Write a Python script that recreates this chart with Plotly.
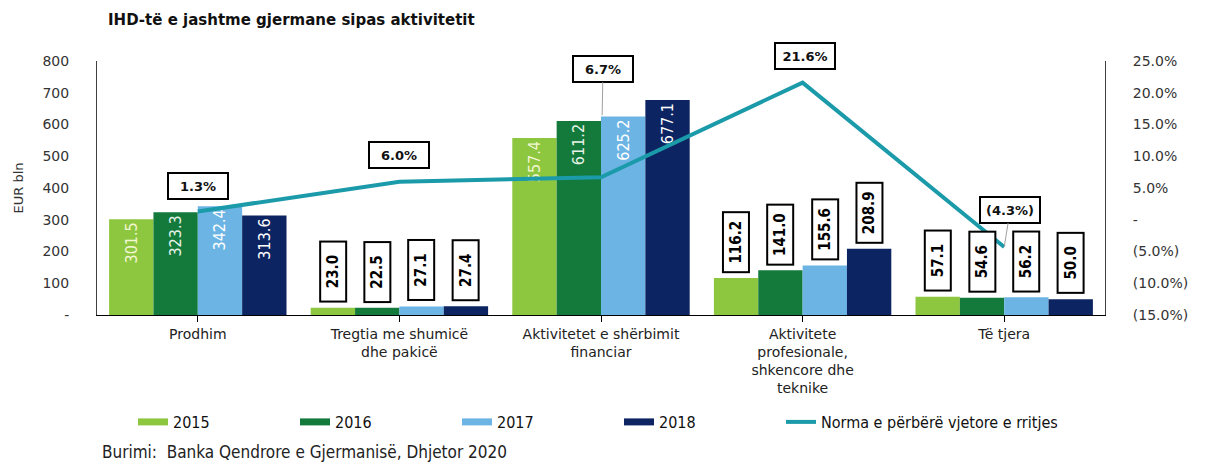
import plotly.graph_objects as go

categories = ["Prodhim", "Tregtia me shumicë<br>dhe pakicë", "Aktivitetet e shërbimit<br>financiar",
              "Aktivitete<br>profesionale,<br>shkencore dhe<br>teknike", "Të tjera"]
years = ["2015", "2016", "2017", "2018"]
v2015 = [301.5, 23.0, 557.4, 116.2, 57.1]
v2016 = [323.3, 22.5, 611.2, 141.0, 54.6]
v2017 = [342.4, 27.1, 625.2, 155.6, 56.2]
v2018 = [313.6, 27.4, 677.1, 208.9, 50.0]
growth = [1.3, 6.0, 6.7, 21.6, -4.3]
growth_labels = ["1.3%", "6.0%", "6.7%", "21.6%", "(4.3%)"]
left_ticks = [0, 100, 200, 300, 400, 500, 600, 700, 800]
left_ticktext = ["-", "100", "200", "300", "400", "500", "600", "700", "800"]
right_ticks = [-15, -10, -5, 0, 5, 10, 15, 20, 25]
right_ticktext = ["(15.0%)", "(10.0%)", "(5.0%)", "-", "5.0%", "10.0%", "15.0%", "20.0%", "25.0%"]

series = [v2015, v2016, v2017, v2018]
colors = ["#8dc63f", "#137a3c", "#6cb4e4", "#0c2461"]
line_color = "#1b9aaa"
inside_cats = [0, 2]
inside_font_colors = ["#f2f7d2", "#e6f3e6", "#ffffff", "#ffffff"]

NARROW = "DejaVu Sans Condensed, Liberation Sans Narrow, sans-serif"
BASE = "DejaVu Sans, Verdana, sans-serif"

fig = go.Figure()
idx = list(range(len(categories)))
for i, (vals, col) in enumerate(zip(series, colors)):
    texts = [f"{v:.1f}" if c in inside_cats else "" for c, v in enumerate(vals)]
    fig.add_trace(go.Bar(
        x=idx, y=vals, name=years[i], marker=dict(color=col, line=dict(width=0)),
        text=texts, textposition="inside", insidetextanchor="end", textangle=-90,
        textfont=dict(family=NARROW, size=16, color=inside_font_colors[i]),
        showlegend=False, hoverinfo="skip"))
    # legend proxy with wide thick symbol
    fig.add_trace(go.Scatter(x=[None], y=[None], mode="lines", name=years[i],
                             line=dict(color=col, width=7), showlegend=True, legend="legend"))

fig.add_trace(go.Scatter(x=idx, y=growth, mode="lines", name="Norma e përbërë vjetore e rritjes",
                         line=dict(color=line_color, width=4), yaxis="y2", hoverinfo="skip",
                         legend="legend2"))

bargap = 0.12
bw = (1 - bargap) / 4
annotations = []
for i, vals in enumerate(series):
    off = -(1 - bargap) / 2 + (i + 0.5) * bw
    for c, v in enumerate(vals):
        if c in inside_cats:
            continue
        annotations.append(dict(
            x=c + off, y=v, xref="x", yref="y", text=f"<b>{v:.1f}</b>", showarrow=False,
            textangle=-90, yanchor="bottom", xanchor="center", yshift=5,
            font=dict(family=NARROW, size=15, color="#000"),
            bordercolor="#000", borderwidth=2, borderpad=2, bgcolor="#fff",
            width=54, height=20))

offsets = [(0, -26, 0), (0, -27, 0), (2, -108, 62), (2, -27, 0), (6, -37, 0)]
for c, (g, lab) in enumerate(zip(growth, growth_labels)):
    ax, ay, stand = offsets[c]
    leader = c in (2, 4)
    annotations.append(dict(
        x=c, y=g, xref="x", yref="y2", text=f"<b>{lab}</b>", showarrow=True,
        ax=ax, ay=ay, arrowhead=0, arrowwidth=1, standoff=stand,
        arrowcolor="#a0a0a0" if leader else "rgba(0,0,0,0)",
        font=dict(family=BASE, size=13, color="#111"),
        bordercolor="#000", borderwidth=2, borderpad=2, bgcolor="#fff",
        width=54, height=20))

annotations.append(dict(
    x=(100 - 97) / 1008, y=-(452 - 315) / 254, xref="paper", yref="paper",
    xanchor="left", yanchor="middle",
    text="Burimi:  Banka Qendrore e Gjermanisë, Dhjetor 2020", showarrow=False,
    font=dict(family=NARROW, size=17, color="#222")))

legend_font = dict(family=NARROW, size=16, color="#111")
fig.update_layout(
    width=1206, height=463,
    margin=dict(l=97, r=101, t=61, b=148),
    paper_bgcolor="#fff", plot_bgcolor="#fff",
    barmode="group", bargap=bargap, bargroupgap=0,
    title=dict(text="<b>IHD-të e jashtme gjermane sipas aktivitetit</b>",
               x=108 / 1206, xref="container", xanchor="left", y=1 - 20 / 463, yref="container",
               yanchor="middle", font=dict(family=BASE, size=15, color="#111")),
    xaxis=dict(tickvals=idx, ticktext=categories, range=[-0.5, 4.5], showline=True,
               linecolor="#000", linewidth=1, ticks="outside", tickson="boundaries",
               ticklen=6, tickcolor="#000", showgrid=False, zeroline=False, automargin=False,
               tickfont=dict(family=BASE, size=14, color="#222")),
    yaxis=dict(range=[0, 800], tickvals=left_ticks, ticktext=left_ticktext, showgrid=False,
               zeroline=False, showline=True, linecolor="#404040", linewidth=1,
               ticks="", ticklabelstandoff=24, automargin=False,
               tickfont=dict(family=BASE, size=14, color="#333"),
               title=dict(text="EUR bln", font=dict(family=BASE, size=13, color="#333"), standoff=15)),
    yaxis2=dict(range=[-15, 25], tickvals=right_ticks, ticktext=right_ticktext, overlaying="y",
                side="right", showgrid=False, zeroline=False, showline=True, automargin=False,
                linecolor="#404040", linewidth=1, ticks="", ticklabelstandoff=24,
                tickfont=dict(family=BASE, size=14, color="#333")),
    legend=dict(orientation="h", x=(133 - 97) / 1008, y=-(422 - 315) / 254,
                xanchor="left", yanchor="middle",
                entrywidth=117, entrywidthmode="pixels",
                font=legend_font, bgcolor="rgba(0,0,0,0)",
                tracegroupgap=0, traceorder="normal"),
    legend2=dict(orientation="h", x=(781 - 97) / 1008, y=-(422 - 315) / 254,
                 xanchor="left", yanchor="middle",
                 font=legend_font, bgcolor="rgba(0,0,0,0)"),
    annotations=annotations,
    showlegend=True,
)

fig.write_html("out.html", config={"displayModeBar": False},
               post_script="document.body.style.margin='0';document.body.style.padding='0';")
